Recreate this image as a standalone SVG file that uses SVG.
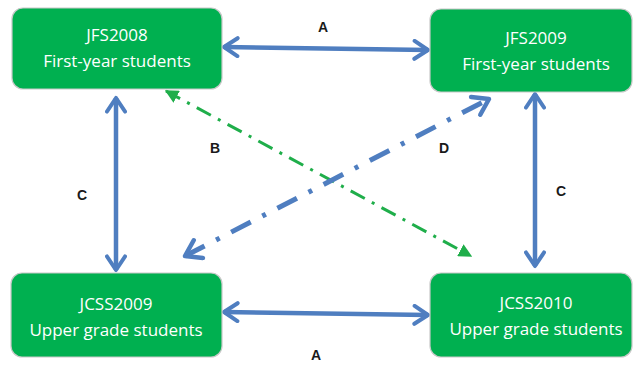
<svg xmlns="http://www.w3.org/2000/svg" width="633" height="369" viewBox="0 0 633 369">
<style>
.box{fill:#00b050;stroke:#c8c8c8;stroke-width:1.2}
.t{fill:#ffffff;font-family:"Open Sans","Liberation Sans",sans-serif;font-size:17px;text-anchor:middle}
.lbl{fill:#1a1a1a;font-family:"Liberation Sans",Arial,sans-serif;font-size:14px;font-weight:bold;text-anchor:middle}
.blue{stroke:#4f7ec0;stroke-width:4.5;fill:none}
.bdash{stroke:#4f7ec0;stroke-width:5;fill:none;stroke-dasharray:22 13 4 13}
.gdash{stroke:#1fae4a;stroke-width:3;fill:none;stroke-dasharray:16 8 3 8}
</style>
<defs>
<marker id="chev" viewBox="0 0 10 10" refX="8.5" refY="5" markerWidth="5" markerHeight="5" orient="auto-start-reverse" markerUnits="strokeWidth">
<path d="M2.5,1 L8.5,5 L2.5,9" fill="none" stroke="#4f7ec0" stroke-width="1.8" stroke-linecap="round" stroke-linejoin="round"/>
</marker>
<marker id="tri" viewBox="0 0 10 10" refX="9" refY="5" markerWidth="4.5" markerHeight="4.5" orient="auto-start-reverse" markerUnits="strokeWidth">
<path d="M0,0 L10,5 L0,10 Z" fill="#1fae4a"/>
</marker>
</defs>
<g id="connectors">
<line class="blue" x1="224" y1="47" x2="428" y2="50" marker-start="url(#chev)" marker-end="url(#chev)"/>
<line class="blue" x1="224" y1="312" x2="428" y2="315" marker-start="url(#chev)" marker-end="url(#chev)"/>
<line class="blue" x1="116" y1="98" x2="116" y2="270" marker-start="url(#chev)" marker-end="url(#chev)"/>
<line class="blue" x1="535" y1="94" x2="535" y2="266" marker-start="url(#chev)" marker-end="url(#chev)"/>
<line class="gdash" x1="166" y1="91" x2="471" y2="256" marker-start="url(#tri)" marker-end="url(#tri)"/>
<line class="bdash" x1="185" y1="256" x2="489" y2="99" marker-start="url(#chev)" marker-end="url(#chev)"/>
<text class="lbl" x="323" y="32">A</text>
<text class="lbl" x="316" y="360">A</text>
<text class="lbl" x="82" y="200">C</text>
<text class="lbl" x="561" y="196">C</text>
<text class="lbl" x="215" y="153">B</text>
<text class="lbl" x="444" y="153">D</text>
</g>
<g id="jfs2008">
<rect class="box" x="12" y="8" width="210" height="81" rx="11"/>
<text class="t" x="117" y="41">JFS2008</text>
<text class="t" x="117" y="67">First-year students</text>
</g>
<g id="jfs2009">
<rect class="box" x="430" y="9" width="202" height="83" rx="11"/>
<text class="t" x="536" y="44">JFS2009</text>
<text class="t" x="536" y="70">First-year students</text>
</g>
<g id="jcss2009">
<rect class="box" x="11" y="273" width="211" height="84" rx="11"/>
<text class="t" x="116" y="310">JCSS2009</text>
<text class="t" x="116" y="336">Upper grade students</text>
</g>
<g id="jcss2010">
<rect class="box" x="430" y="273" width="202" height="84" rx="11"/>
<text class="t" x="536" y="309">JCSS2010</text>
<text class="t" x="536" y="335">Upper grade students</text>
</g>
</svg>
